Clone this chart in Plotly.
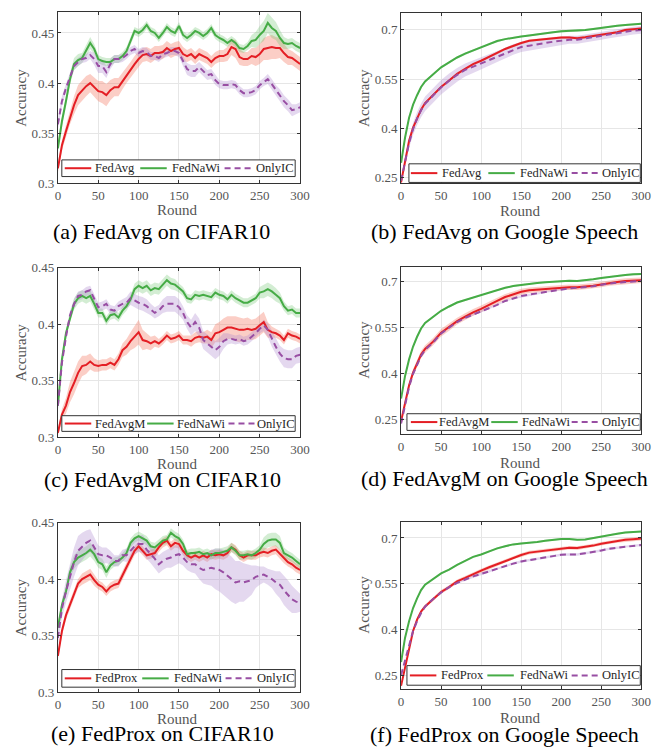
import plotly.graph_objects as go

W, H = 665, 753

# ---------------- data ----------------
rounds_c = list(range(0, 301, 5))
rounds_s = [0, 5, 10, 15, 20, 25, 30] + list(range(40, 301, 10))

# (a) FedAvg on CIFAR10
a_fedavg = [.315,.338,.352,.366,.378,.388,.393,.397,.400,.396,
            .392,.391,.388,.393,.396,.396,.402,.408,.413,.419,
            .424,.428,.429,.427,.430,.430,.431,.435,.432,.434,
            .435,.429,.427,.429,.425,.429,.427,.425,.421,.425,
            .427,.427,.429,.436,.434,.426,.424,.424,.427,.426,
            .429,.434,.435,.436,.435,.435,.430,.426,.425,.422,
            .419]
a_fednawi = [.335,.362,.382,.404,.419,.423,.425,.432,.440,.434,
             .424,.422,.421,.421,.424,.424,.427,.432,.442,.452,
             .450,.453,.458,.452,.450,.445,.450,.456,.452,.450,
             .457,.448,.445,.448,.452,.450,.447,.450,.455,.448,
             .445,.443,.440,.443,.440,.435,.434,.437,.442,.443,
             .448,.452,.460,.455,.452,.445,.440,.439,.440,.437,
             .435]
a_onlyic = [.359,.382,.395,.406,.417,.421,.424,.425,.428,.424,
            .417,.417,.411,.419,.424,.424,.425,.428,.432,.434,
            .430,.432,.431,.427,.427,.425,.429,.430,.432,.432,
            .430,.422,.414,.412,.412,.416,.412,.408,.409,.403,
            .399,.398,.398,.399,.398,.393,.390,.390,.391,.393,
            .398,.401,.404,.399,.393,.388,.382,.378,.373,.374,
            .376]
a_fedavg_hw = [.004,.005,.006,.007,.009,.010,.010,.010,.009,.009,
               .010,.011,.011,.010,.009,.009,.008,.008,.008,.008,
               .008,.007,.007,.007,.007,.007,.007,.007,.007,.007,
               .007,.007,.006,.006,.006,.006,.006,.006,.006,.006,
               .006,.006,.007,.008,.009,.008,.007,.007,.008,.009,
               .010,.011,.012,.012,.011,.010,.009,.008,.007,.007,
               .007]
a_fednawi_hw = [.004,.005,.006,.006,.006,.006,.005,.006,.006,.005,
                .004,.004,.004,.004,.004,.004,.004,.004,.004,.004,
                .004,.004,.004,.004,.004,.004,.004,.004,.004,.004,
                .004,.004,.004,.004,.004,.004,.004,.004,.004,.004,
                .004,.004,.004,.004,.004,.004,.004,.004,.006,.008,
                .009,.010,.010,.010,.009,.008,.006,.005,.005,.005,
                .005]
a_onlyic_hw = [.005,.005,.004,.004,.004,.004,.004,.004,.004,.006,
               .007,.007,.006,.005,.004,.004,.004,.004,.004,.004,
               .004,.004,.004,.004,.004,.004,.004,.004,.004,.004,
               .004,.005,.006,.006,.006,.005,.005,.005,.005,.005,
               .004,.004,.004,.004,.004,.004,.004,.004,.004,.004,
               .004,.004,.005,.005,.005,.006,.006,.006,.006,.005,
               .005]

# (b) FedAvg on Google Speech
b_fedavg = [.235,.303,.362,.402,.432,.457,.477,
            .501,.526,.546,.566,.581,.596,.606,.619,.630,.642,
            .652,.660,.667,.670,.673,.675,.677,.677,.675,.678,
            .682,.686,.690,.693,.700,.702,.704]
b_fednawi = [.295,.372,.432,.472,.501,.526,.543,
             .566,.586,.601,.616,.628,.638,.648,.658,.666,.672,
             .677,.680,.683,.687,.690,.693,.696,.697,.697,.700,
             .703,.707,.710,.713,.715,.718,.719]
b_onlyic = [.240,.300,.355,.398,.430,.455,.475,
            .500,.525,.545,.563,.578,.588,.599,.609,.619,.630,
            .640,.648,.652,.657,.660,.664,.667,.670,.670,.674,
            .678,.682,.687,.692,.695,.698,.700]
b_fedavg_hw = [.004,.004,.004,.004,.004,.004,.004,
               .004,.004,.004,.004,.004,.004,.004,.004,.004,.004,
               .004,.004,.004,.004,.004,.004,.004,.004,.004,.004,
               .004,.004,.004,.004,.004,.004,.004]
b_fednawi_hw = [.003,.003,.003,.003,.003,.003,.003,
                .003,.003,.003,.003,.003,.003,.003,.003,.003,.003,
                .003,.003,.003,.003,.003,.003,.003,.003,.003,.003,
                .003,.003,.003,.003,.003,.003,.003]
b_onlyic_hw = [.005,.010,.015,.018,.020,.021,.022,
               .022,.022,.022,.021,.020,.019,.018,.018,.017,.016,
               .016,.015,.014,.014,.013,.013,.013,.012,.012,.012,
               .012,.012,.012,.012,.012,.012,.012]

# (c) FedAvgM on CIFAR10
c_fedavgm = [.304,.320,.328,.340,.348,.357,.363,.364,.367,.364,
             .363,.364,.364,.366,.364,.369,.377,.380,.385,.389,
             .393,.386,.385,.383,.385,.383,.386,.390,.387,.388,
             .390,.386,.386,.385,.388,.389,.388,.389,.386,.392,
             .393,.395,.397,.397,.396,.395,.395,.396,.395,.396,
             .399,.402,.395,.393,.392,.390,.386,.392,.390,.389,
             .387]
c_fednawi = [.328,.369,.392,.406,.418,.423,.425,.423,.425,.418,
             .410,.410,.403,.408,.409,.406,.412,.416,.422,.431,
             .434,.432,.434,.430,.432,.431,.435,.439,.436,.435,
             .432,.429,.423,.422,.426,.425,.426,.425,.424,.428,
             .426,.425,.422,.426,.423,.421,.419,.419,.421,.423,
             .428,.429,.431,.429,.426,.423,.416,.412,.413,.410,
             .410]
c_onlyic = [.328,.366,.389,.408,.418,.425,.426,.429,.430,.422,
            .415,.416,.418,.413,.412,.416,.418,.419,.423,.421,
            .419,.418,.416,.413,.410,.412,.416,.418,.418,.418,
            .415,.410,.402,.397,.402,.397,.386,.383,.380,.377,
            .380,.385,.387,.387,.386,.387,.385,.386,.389,.392,
            .396,.399,.395,.387,.380,.374,.370,.369,.369,.372,
            .373]
c_fedavgm_hw = [.003,.005,.007,.009,.010,.010,.009,.008,.007,.006,
                .005,.005,.005,.005,.005,.005,.006,.007,.008,.010,
                .011,.009,.007,.006,.005,.004,.004,.004,.004,.004,
                .004,.004,.004,.005,.005,.005,.005,.006,.007,.008,
                .009,.010,.010,.010,.011,.011,.010,.010,.009,.009,
                .009,.009,.007,.005,.004,.004,.004,.004,.004,.004,
                .004]
c_fednawi_hw = [.004,.004,.004,.004,.005,.005,.005,.005,.005,.005,
                .004,.004,.004,.004,.004,.004,.004,.004,.004,.005,
                .005,.005,.005,.005,.005,.005,.005,.005,.005,.005,
                .004,.004,.004,.004,.004,.004,.004,.004,.004,.004,
                .004,.004,.004,.004,.004,.004,.004,.004,.004,.004,
                .005,.006,.006,.006,.006,.005,.004,.004,.004,.004,
                .004]
c_onlyic_hw = [.004,.004,.004,.004,.004,.004,.004,.004,.004,.004,
               .004,.004,.004,.004,.004,.004,.004,.005,.006,.006,
               .006,.006,.006,.005,.005,.005,.006,.007,.007,.007,
               .007,.006,.006,.007,.008,.008,.008,.008,.008,.008,
               .008,.007,.005,.004,.004,.004,.004,.004,.004,.004,
               .004,.005,.006,.007,.007,.007,.008,.008,.008,.007,
               .007]

# (d) FedAvgM on Google Speech
d_fedavgm = [.243,.306,.360,.402,.434,.461,.479,
             .503,.532,.551,.570,.585,.599,.610,.624,.636,.649,
             .657,.666,.671,.673,.676,.678,.681,.681,.681,.683,
             .686,.690,.695,.698,.701,.702,.704]
d_fednawi = [.317,.391,.445,.487,.519,.546,.564,
             .583,.604,.618,.631,.639,.647,.657,.665,.672,.679,
             .685,.689,.693,.695,.697,.699,.701,.702,.701,.703,
             .707,.711,.715,.719,.721,.723,.724]
d_onlyic = [.235,.300,.355,.398,.430,.456,.476,
            .500,.530,.549,.567,.581,.591,.601,.612,.623,.636,
            .645,.652,.657,.661,.665,.670,.673,.677,.679,.681,
            .684,.689,.693,.696,.698,.700,.702]
d_fedavgm_hw = [.005,.008,.010,.011,.012,.012,.012,
                .012,.012,.012,.011,.011,.011,.011,.010,.010,.010,
                .010,.010,.009,.009,.009,.009,.009,.009,.009,.009,
                .009,.009,.009,.009,.009,.009,.009]
d_fednawi_hw = [.003,.003,.003,.003,.003,.003,.003,
                .003,.003,.003,.003,.003,.003,.003,.003,.003,.003,
                .003,.003,.003,.003,.003,.003,.003,.003,.003,.003,
                .003,.003,.003,.003,.003,.003,.003]
d_onlyic_hw = [.003,.003,.003,.003,.003,.003,.003,
               .003,.003,.003,.003,.003,.003,.003,.003,.003,.003,
               .003,.003,.003,.003,.003,.003,.003,.003,.003,.003,
               .003,.003,.003,.003,.003,.003,.003]

# (e) FedProx on CIFAR10
e_fedprox = [.332,.354,.368,.377,.387,.396,.400,.402,.404,.399,
             .395,.393,.389,.393,.395,.396,.403,.410,.418,.425,
             .429,.425,.421,.422,.423,.428,.432,.434,.429,.432,
             .431,.425,.421,.419,.421,.419,.421,.419,.422,.421,
             .422,.421,.423,.428,.426,.421,.419,.421,.421,.421,
             .423,.424,.423,.425,.426,.422,.418,.415,.413,.410,
             .408]
e_fednawi = [.357,.377,.389,.406,.415,.419,.421,.423,.426,.422,
             .415,.413,.406,.412,.415,.416,.419,.423,.432,.436,
             .438,.436,.434,.429,.428,.431,.434,.435,.441,.438,
             .436,.431,.422,.423,.423,.424,.422,.423,.421,.423,
             .423,.424,.425,.428,.425,.421,.421,.422,.421,.423,
             .426,.431,.434,.435,.435,.432,.423,.421,.419,.416,
             .413]
e_onlyic = [.348,.374,.389,.403,.415,.425,.429,.432,.434,.428,
            .422,.421,.421,.419,.416,.416,.421,.421,.425,.429,
            .431,.431,.426,.422,.418,.413,.416,.418,.419,.421,
            .422,.419,.415,.413,.413,.410,.408,.409,.410,.409,
            .408,.406,.403,.400,.397,.398,.397,.398,.399,.402,
            .403,.404,.402,.400,.397,.395,.390,.386,.382,.380,
            .379]
e_fedprox_hw = [.003,.004,.004,.004,.004,.004,.005,.005,.005,.005,
                .004,.004,.004,.004,.004,.004,.004,.004,.004,.004,
                .004,.004,.004,.004,.004,.004,.004,.004,.004,.004,
                .004,.004,.004,.004,.004,.004,.004,.004,.004,.004,
                .004,.004,.004,.004,.004,.004,.004,.004,.004,.004,
                .004,.004,.004,.004,.004,.004,.004,.004,.004,.004,
                .004]
e_fednawi_hw = [.004,.004,.004,.005,.006,.006,.006,.006,.006,.006,
                .005,.005,.005,.004,.004,.004,.004,.004,.004,.004,
                .004,.004,.004,.004,.004,.004,.004,.004,.004,.004,
                .004,.004,.004,.004,.004,.004,.004,.004,.004,.004,
                .004,.004,.004,.004,.004,.004,.004,.004,.004,.004,
                .004,.006,.006,.006,.006,.006,.005,.004,.004,.004,
                .004]
e_onlyic_hw = [.006,.008,.010,.012,.013,.013,.012,.011,.010,.009,
               .008,.007,.007,.006,.005,.005,.005,.006,.007,.007,
               .007,.008,.008,.008,.008,.008,.008,.008,.009,.009,
               .008,.007,.007,.007,.008,.010,.012,.014,.016,.018,
               .019,.020,.020,.020,.019,.018,.017,.015,.013,.010,
               .008,.007,.007,.008,.010,.012,.013,.013,.012,.010,
               .008]

# (f) FedProx on Google Speech
f_fedprox = [.215,.277,.341,.395,.432,.459,.475,
             .500,.523,.539,.558,.569,.582,.593,.604,.614,.625,
             .636,.644,.652,.655,.659,.662,.666,.668,.667,.670,
             .675,.681,.686,.690,.694,.696,.698]
f_fednawi = [.293,.373,.427,.470,.502,.529,.547,
             .566,.584,.596,.612,.625,.638,.646,.657,.666,.673,
             .679,.682,.684,.687,.691,.695,.697,.697,.694,.695,
             .700,.705,.711,.714,.718,.720,.721]
f_onlyic = [.250,.298,.352,.395,.427,.454,.475,
            .500,.521,.539,.553,.564,.574,.582,.591,.600,.609,
            .616,.623,.627,.633,.637,.641,.645,.646,.646,.650,
            .654,.659,.665,.668,.673,.676,.677]
f_fedprox_hw = [.004,.006,.006,.006,.006,.006,.006,
                .006,.006,.006,.006,.006,.006,.006,.006,.006,.006,
                .006,.006,.006,.006,.006,.006,.006,.006,.006,.006,
                .006,.006,.006,.006,.006,.006,.006]
f_fednawi_hw = [.003,.003,.003,.003,.003,.003,.003,
                .003,.003,.003,.003,.003,.003,.003,.003,.003,.003,
                .003,.003,.003,.003,.003,.003,.003,.003,.003,.003,
                .003,.003,.003,.003,.003,.003,.003]
f_onlyic_hw = [.004,.004,.004,.004,.004,.004,.004,
               .004,.004,.004,.004,.004,.004,.004,.004,.004,.004,
               .004,.004,.004,.004,.004,.004,.004,.004,.004,.004,
               .004,.004,.004,.004,.004,.004,.004]

x_ticks = [0, 50, 100, 150, 200, 250, 300]
cifar_ticks = [0.3, 0.35, 0.4, 0.45]
cifar_tick_text = ["0.3", "0.35", "0.4", "0.45"]
speech_ticks = [0.25, 0.4, 0.55, 0.7]
speech_tick_text = ["0.25", "0.4", "0.55", "0.7"]

captions = ["(a) FedAvg on CIFAR10", "(b) FedAvg on Google Speech",
            "(c) FedAvgM on CIFAR10", "(d) FedAvgM on Google Speech",
            "(e) FedProx on CIFAR10", "(f) FedProx on Google Speech"]

# ---------------- styling ----------------
LINE_COLORS = ["rgb(228,30,36)", "rgb(70,172,70)", "rgb(152,78,163)"]
BAND_COLORS = ["rgba(245,125,105,0.38)", "rgba(110,195,110,0.30)", "rgba(170,135,205,0.32)"]
DASHES = ["solid", "solid", "6px,4px"]
FONT = "Liberation Serif, Times New Roman, serif"
GRAY = "#555555"

# panel geometry in pixels (plot area), legend box, and label centres
panels = [
    dict(x0=56, x1=303, y0=5, y1=180, yr=[0.3, 0.471], cifar=True, rounds=rounds_c,
         series=[("FedAvg", a_fedavg, a_fedavg_hw), ("FedNaWi", a_fednawi, a_fednawi_hw), ("OnlyIC", a_onlyic, a_onlyic_hw)],
         cap=(162, 229), rnd=(178, 207), acc=(18, 93),
         box=(60, 156, 298, 173), lx=[3, 80, 166], tx=[32, 110, 196]),
    dict(x0=406, x1=651, y0=6, y1=180, yr=[0.232, 0.752], cifar=False, rounds=rounds_s,
         series=[("FedAvg", b_fedavg, b_fedavg_hw), ("FedNaWi", b_fednawi, b_fednawi_hw), ("OnlyIC", b_onlyic, b_onlyic_hw)],
         cap=(512, 229), rnd=(528, 208), acc=(368, 93),
         box=(414, 160, 650, 179), lx=[2, 81, 166], tx=[32, 111, 195]),
    dict(x0=56, x1=303, y0=266, y1=439, yr=[0.3, 0.45], cifar=True, rounds=rounds_c,
         series=[("FedAvgM", c_fedavgm, c_fedavgm_hw), ("FedNaWi", c_fednawi, c_fednawi_hw), ("OnlyIC", c_onlyic, c_onlyic_hw)],
         cap=(163, 482), rnd=(178, 466), acc=(18, 353),
         box=(60, 417, 298, 433), lx=[3, 87, 170], tx=[32, 115, 197]),
    dict(x0=406, x1=651, y0=265, y1=436, yr=[0.2, 0.748], cifar=False, rounds=rounds_s,
         series=[("FedAvgM", d_fedavgm, d_fedavgm_hw), ("FedNaWi", d_fednawi, d_fednawi_hw), ("OnlyIC", d_onlyic, d_onlyic_hw)],
         cap=(512, 481), rnd=(528, 465), acc=(368, 350),
         box=(412, 415, 650, 432), lx=[4, 86, 168], tx=[31, 115, 197]),
    dict(x0=56, x1=303, y0=526, y1=699, yr=[0.3, 0.45], cifar=True, rounds=rounds_c,
         series=[("FedProx", e_fedprox, e_fedprox_hw), ("FedNaWi", e_fednawi, e_fednawi_hw), ("OnlyIC", e_onlyic, e_onlyic_hw)],
         cap=(163, 741), rnd=(178, 726), acc=(18, 613),
         box=(60, 676, 298, 694), lx=[3, 82, 167], tx=[32, 112, 197]),
    dict(x0=406, x1=651, y0=525, y1=696, yr=[0.204, 0.754], cifar=False, rounds=rounds_s,
         series=[("FedProx", f_fedprox, f_fedprox_hw), ("FedNaWi", f_fednawi, f_fednawi_hw), ("OnlyIC", f_onlyic, f_onlyic_hw)],
         cap=(512, 742), rnd=(528, 725), acc=(368, 610),
         box=(412, 672, 650, 692), lx=[3, 82, 168], tx=[33, 113, 197]),
]

def px(x):
    return x / W

def py(y):
    return 1 - y / H

fig = go.Figure()
layout = dict(width=W, height=H, margin=dict(l=0, r=0, t=0, b=0),
              paper_bgcolor="white", plot_bgcolor="white", showlegend=False,
              font=dict(family=FONT, color=GRAY))
annotations = []
shapes = []

for i, p in enumerate(panels, start=1):
    sfx = "" if i == 1 else str(i)
    xa, ya = "x" + sfx, "y" + sfx
    xs = p["rounds"]
    for k, (name, vals, hw) in enumerate(p["series"]):
        assert len(vals) == len(xs) and len(hw) == len(xs), (i, name, len(vals), len(hw))
        upper = [v + h for v, h in zip(vals, hw)]
        lower = [v - h for v, h in zip(vals, hw)]
        fig.add_trace(go.Scatter(x=xs + xs[::-1], y=upper + lower[::-1], fill="toself",
                                 fillcolor=BAND_COLORS[k], line=dict(width=0), mode="lines",
                                 hoverinfo="skip", showlegend=False, xaxis=xa, yaxis=ya))
    for k, (name, vals, hw) in enumerate(p["series"]):
        fig.add_trace(go.Scatter(x=xs, y=vals, mode="lines", name=name, showlegend=False,
                                 line=dict(color=LINE_COLORS[k], width=2, dash=DASHES[k]),
                                 xaxis=xa, yaxis=ya))
    common = dict(showline=True, linecolor="#333333", linewidth=1, mirror="ticks",
                  ticks="inside", ticklen=3, tickcolor="#333333",
                  showgrid=True, gridcolor="#e6e6e6", gridwidth=1, zeroline=False,
                  tickfont=dict(family=FONT, size=13, color=GRAY))
    layout["xaxis" + sfx] = dict(common, domain=[px(p["x0"]), px(p["x1"])], anchor=ya,
                                 range=[0, 300], tickvals=x_ticks, ticktext=[str(t) for t in x_ticks])
    layout["yaxis" + sfx] = dict(common, domain=[py(p["y1"]), py(p["y0"])], anchor=xa,
                                 range=p["yr"],
                                 tickvals=cifar_ticks if p["cifar"] else speech_ticks,
                                 ticktext=cifar_tick_text if p["cifar"] else speech_tick_text)

    # legend box drawn inside the plot, MATLAB style
    L, T, R, B = p["box"]
    mid = (T + B) / 2
    shapes.append(dict(type="rect", xref="paper", yref="paper", x0=px(L), x1=px(R), y0=py(B), y1=py(T),
                       fillcolor="white", line=dict(color="#333333", width=1), layer="above"))
    for k, (name, vals, hw) in enumerate(p["series"]):
        shapes.append(dict(type="line", xref="paper", yref="paper",
                           x0=px(L + p["lx"][k]), x1=px(L + p["lx"][k] + 27), y0=py(mid), y1=py(mid),
                           line=dict(color=LINE_COLORS[k], width=2,
                                     dash="solid" if k < 2 else "6px,4px"), layer="above"))
        annotations.append(dict(text=name, x=px(L + p["tx"][k]), y=py(mid), xref="paper", yref="paper",
                                showarrow=False, xanchor="left", yanchor="middle",
                                font=dict(family=FONT, size=12.5, color="#262626")))

    annotations.append(dict(text=captions[i - 1], x=px(p["cap"][0]), y=py(p["cap"][1]),
                            xref="paper", yref="paper", showarrow=False, xanchor="center", yanchor="middle",
                            font=dict(family=FONT, size=22, color="black")))
    annotations.append(dict(text="Round", x=px(p["rnd"][0]), y=py(p["rnd"][1]),
                            xref="paper", yref="paper", showarrow=False, xanchor="center", yanchor="middle",
                            font=dict(family=FONT, size=15, color=GRAY)))
    annotations.append(dict(text="Accuracy", x=px(p["acc"][0]), y=py(p["acc"][1]),
                            xref="paper", yref="paper", showarrow=False, xanchor="center", yanchor="middle",
                            textangle=-90, font=dict(family=FONT, size=15, color=GRAY)))

layout["annotations"] = annotations
layout["shapes"] = shapes
fig.update_layout(**layout)
fig.write_html("out.html", config={"displayModeBar": False},
               post_script="document.body.style.margin='0';document.body.style.overflow='hidden';")
